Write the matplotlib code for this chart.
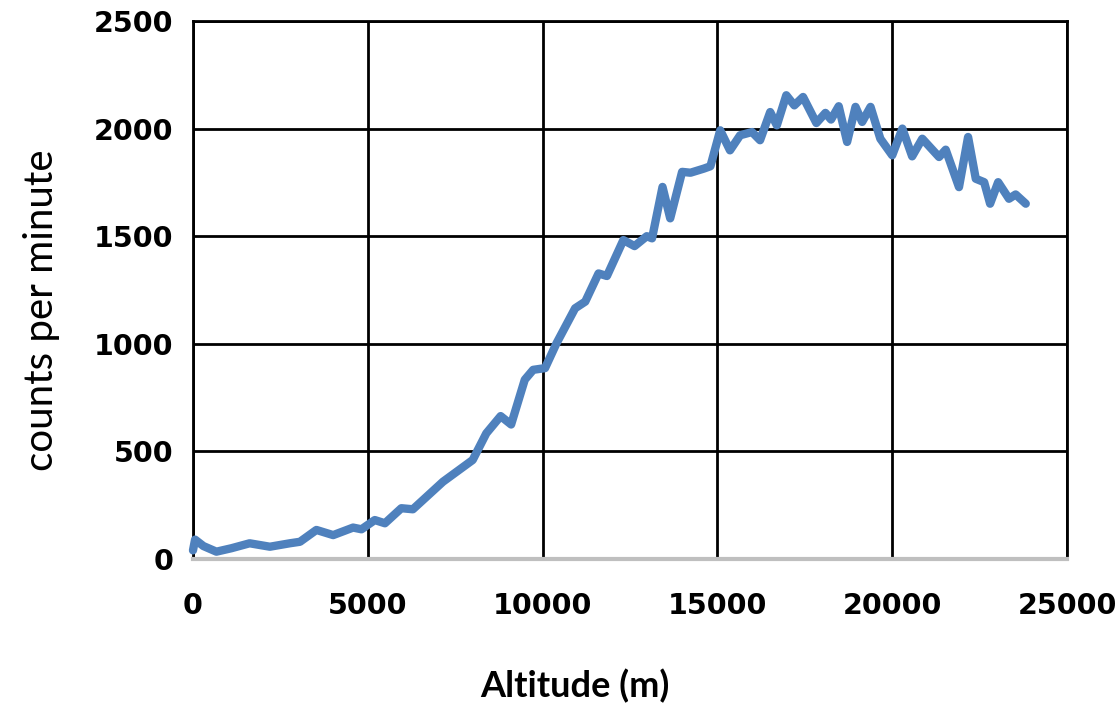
import matplotlib
matplotlib.use("Agg")
import matplotlib.pyplot as plt

# altitude (m) and count rate
altitude = [0, 60, 300, 670, 1100, 1620, 2200, 2770, 3060, 3530,
            4010, 4580, 4820, 5200, 5490, 5960, 6290, 7150, 8000, 8390,
            8800, 9100, 9490, 9730, 10070, 10400, 10930, 11220, 11600, 11840,
            12310, 12630, 12980, 13130, 13430, 13650, 13990, 14230, 14610, 14800,
            15080, 15360, 15650, 15990, 16220, 16510, 16700, 16970, 17200, 17450,
            17830, 18090, 18250, 18470, 18710, 18950, 19140, 19380, 19660, 20000,
            20290, 20570, 20860, 21340, 21530, 21910, 22170, 22390, 22630, 22800,
            23030, 23340, 23530, 23820]
cpm = [40, 90, 60, 34, 50, 73, 57, 73, 80, 135,
       111, 146, 138, 181, 166, 236, 231, 359, 460, 584,
       664, 625, 833, 879, 887, 1003, 1165, 1196, 1327, 1315,
       1482, 1454, 1500, 1490, 1729, 1583, 1799, 1795, 1814, 1825,
       1992, 1899, 1969, 1984, 1946, 2077, 2015, 2155, 2108, 2147,
       2026, 2073, 2042, 2104, 1938, 2101, 2031, 2101, 1953, 1876,
       2000, 1871, 1953, 1868, 1902, 1728, 1961, 1767, 1751, 1651,
       1751, 1674, 1694, 1651]

xticks = [0, 5000, 10000, 15000, 20000, 25000]
yticks = [0, 500, 1000, 1500, 2000, 2500]

fig = plt.figure(figsize=(11.2, 7.12), dpi=100)
ax = fig.add_axes([0.1723, 0.2149, 0.7804, 0.7556])

ax.plot(altitude, cpm, color="#4F81BD", lw=6, solid_joinstyle="round",
        solid_capstyle="round", clip_on=False, zorder=3)

ax.set_xlim(0, 25000)
ax.set_ylim(0, 2500)
ax.set_xticks(xticks)
ax.set_yticks(yticks)
ax.grid(True, color="black", lw=2)
ax.set_axisbelow(True)

for s in ["top", "right", "left"]:
    ax.spines[s].set_color("black")
    ax.spines[s].set_linewidth(2)
ax.spines["bottom"].set_color("#BFBFBF")
ax.spines["bottom"].set_linewidth(3)

ax.tick_params(length=0)
ax.tick_params(axis="x", pad=24)
ax.tick_params(axis="y", pad=14)
for lab in ax.get_xticklabels() + ax.get_yticklabels():
    lab.set_fontfamily("DejaVu Sans")
    lab.set_fontweight("bold")
    lab.set_fontsize(20.5)

ax.set_xlabel("Altitude (m)", fontfamily="Lato", fontweight="bold", fontsize=26)
ax.set_ylabel("counts per minute", fontfamily="Lato", fontsize=29)
ax.xaxis.set_label_coords(0.437, -0.205)
ax.yaxis.set_label_coords(-0.152, 0.463)

fig.savefig("out.png", dpi=100)
